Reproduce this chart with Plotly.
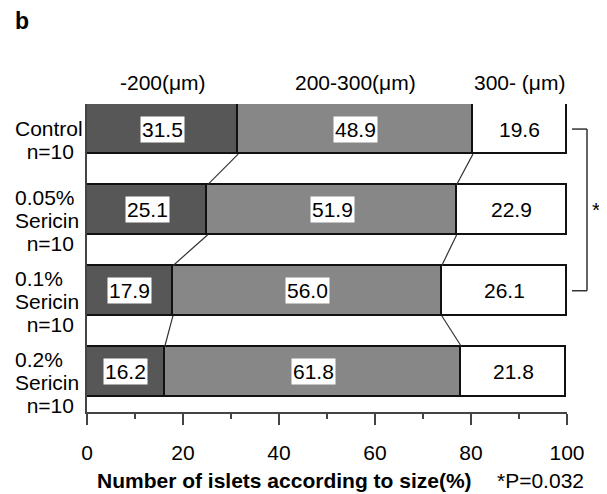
import plotly.graph_objects as go

# ---- data ----
categories = ["Control", "0.05%<br>Sericin", "0.1%<br>Sericin", "0.2%<br>Sericin"]
n_labels = ["n=10", "n=10", "n=10", "n=10"]
size_classes = ["-200(μm)", "200-300(μm)", "300- (μm)"]
small = [31.5, 25.1, 17.9, 16.2]
medium = [48.9, 51.9, 56.0, 61.8]
large = [19.6, 22.9, 26.1, 21.8]
x_ticks = [0, 20, 40, 60, 80, 100]
sig_pair = [0, 2]
sig_text = "*"
p_text = "*P=0.032"
x_title = "Number of islets according to size(%)"
panel = "b"

FONT = "Liberation Sans, Arial, sans-serif"
FS = 21
colors = ["#575757", "#878787", "#ffffff"]
series = [small, medium, large]
ypos = list(range(len(categories)))
BAR_W = 0.62
Y_RANGE = [3.5, -BAR_W / 2]

# page body adds an 8px offset; compensate in margins
OFF = 8
PL, PT, PW, PH = 87 - OFF, 104 - OFF, 480, 308

fig = go.Figure()
for k, vals in enumerate(series):
    fig.add_trace(go.Bar(
        y=ypos, x=vals, orientation="h", width=BAR_W,
        marker=dict(color=colors[k], line=dict(color="#111111", width=1.6)),
        showlegend=False, hoverinfo="skip"))

# cumulative boundaries
cum = []
for i in range(len(categories)):
    a = small[i]
    b = a + medium[i]
    c = b + large[i]
    cum.append([a, b, c])

# connector lines between bars
for i in range(len(categories) - 1):
    for k in range(2):
        fig.add_trace(go.Scatter(
            x=[cum[i][k], cum[i + 1][k]],
            y=[i + BAR_W / 2, i + 1 - BAR_W / 2],
            mode="lines", line=dict(color="#333333", width=1.2),
            showlegend=False, hoverinfo="skip"))

# value labels
for i in range(len(categories)):
    starts = [0, cum[i][0], cum[i][1]]
    for k, vals in enumerate(series):
        fig.add_annotation(
            x=starts[k] + vals[i] / 2, y=i, text=f"{vals[i]:.1f}",
            showarrow=False, font=dict(family=FONT, size=FS, color="#000"),
            bgcolor="#ffffff", borderpad=1)

# category labels (left, line by line)
LINE = 23
for i, cat in enumerate(categories):
    lines = cat.split("<br>") + ["\u00a0\u00a0" + n_labels[i]]
    n = len(lines)
    first = 11 - (n - 1) * LINE / 2
    for j, ln in enumerate(lines):
        fig.add_annotation(
            xref="paper", x=0, xshift=-74, xanchor="left",
            yref="y", y=i, yshift=-(first + j * LINE), yanchor="middle",
            text=ln, showarrow=False,
            font=dict(family=FONT, size=FS, color="#000"))

# size class headers above Control bar segments
starts0 = [0, cum[0][0], cum[0][1]]
for k, name in enumerate(size_classes):
    fig.add_annotation(
        x=starts0[k] + series[k][0] / 2, y=1, xref="x", yref="paper",
        yshift=22, yanchor="middle", text=name, showarrow=False,
        font=dict(family=FONT, size=FS, color="#000"))

# significance bracket
bx0, bx1 = (572 - 87) / PW, (587 - 87) / PW
for yy in sig_pair:
    fig.add_shape(type="line", xref="paper", yref="y", x0=bx0, x1=bx1, y0=yy, y1=yy,
                  line=dict(color="#333333", width=1.5))
fig.add_shape(type="line", xref="paper", yref="y", x0=bx1, x1=bx1,
              y0=sig_pair[0], y1=sig_pair[1], line=dict(color="#333333", width=1.5))
fig.add_annotation(xref="paper", yref="y", x=bx1 + 0.006, xanchor="left",
                   y=(sig_pair[0] + sig_pair[1]) / 2, text=sig_text, showarrow=False,
                   font=dict(family=FONT, size=FS, color="#000"))

# axis title and p value
fig.add_annotation(xref="paper", yref="paper", x=(95 - 87) / PW, xanchor="left",
                   y=0, yshift=-68, yanchor="middle", text=f"<b>{x_title}</b>",
                   showarrow=False, font=dict(family=FONT, size=FS, color="#000"))
fig.add_annotation(xref="paper", yref="paper", x=(495 - 87) / PW, xanchor="left",
                   y=0, yshift=-68, yanchor="middle", text=p_text,
                   showarrow=False, font=dict(family=FONT, size=FS, color="#000"))
# panel letter
fig.add_annotation(xref="paper", yref="paper", x=0, xshift=-74, xanchor="left",
                   y=1, yshift=83, yanchor="middle", text=f"<b>{panel}</b>",
                   showarrow=False, font=dict(family=FONT, size=23, color="#000"))

fig.update_layout(
    width=607, height=494, barmode="stack", bargap=0,
    margin=dict(l=PL, r=607 - PL - PW, t=PT, b=494 - PT - PH),
    paper_bgcolor="#ffffff", plot_bgcolor="#ffffff",
    font=dict(family=FONT, size=FS, color="#000"),
    xaxis=dict(range=[0, 100], tickvals=x_ticks, showgrid=False, zeroline=False,
               showline=True, linecolor="#444444", linewidth=2,
               ticks="outside", ticklen=11, tickwidth=2, tickcolor="#444444",
               ticklabelstandoff=10,
               minor=dict(dtick=10, ticks="outside", ticklen=5, tickwidth=2, tickcolor="#444444"),
               tickfont=dict(family=FONT, size=FS, color="#000")),
    yaxis=dict(range=Y_RANGE, showgrid=False, zeroline=False, showticklabels=False,
               showline=True, linecolor="#444444", linewidth=2, ticks=""),
)

fig.write_html("out.html")
